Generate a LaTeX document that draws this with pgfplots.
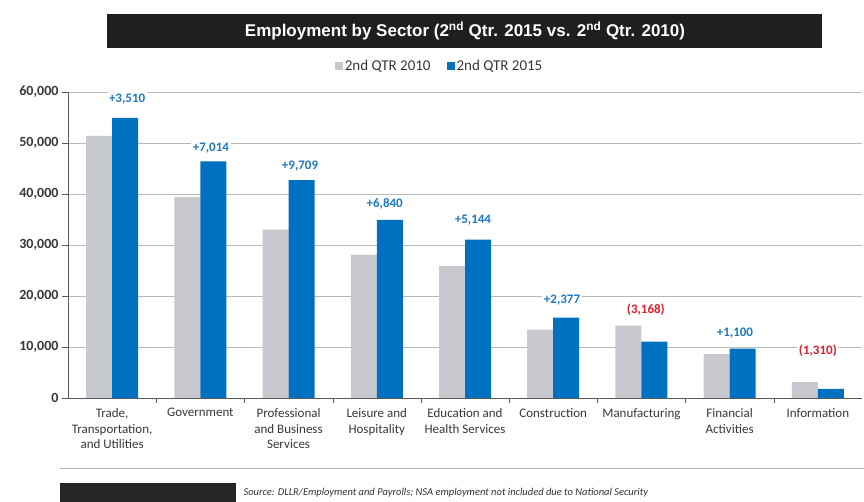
\documentclass[border=0pt]{standalone}
\usepackage{fontspec}
\setmainfont{Carlito}
\newfontfamily\titlefont{Liberation Sans}
\usepackage{pgfplots}
\pgfplotsset{compat=1.18}
\definecolor{barGray}{RGB}{200,201,207}
\definecolor{barBlue}{RGB}{0,112,192}
\definecolor{lblBlue}{RGB}{30,120,200}
\definecolor{lblRed}{RGB}{225,30,45}
\definecolor{txt}{RGB}{55,55,55}
\begin{document}
\begin{tikzpicture}[x=1pt,y=1pt]
\path[use as bounding box] (0pt,0pt) rectangle (864pt,502pt);
% title banner
\fill[black!88] (107pt,454pt) rectangle (822pt,488pt);
\node[text=white, font=\titlefont\bfseries\fontsize{17}{20}\selectfont] at (465pt,471pt)
  {Employment by Sector (2\textsuperscript{nd} Qtr. 2015 vs. 2\textsuperscript{nd} Qtr. 2010)};
\begin{axis}[
  at={(68pt,104pt)}, anchor=south west,
  scale only axis, width=794pt, height=306pt,
  xmin=-0.5, xmax=8.5, ymin=0, ymax=60000,
  axis x line*=bottom, axis y line*=left,
  axis line style={gray!70!black, thin},
  ytick={0,10000,20000,30000,40000,50000,60000},
  ymajorgrids, grid style={gray!55, thin},
  scaled y ticks=false,
  /pgf/number format/assume math mode=true,
  /pgf/number format/fixed,
  /pgf/number format/1000 sep={,},
  y tick label style={font=\bfseries\fontsize{14}{16}\selectfont, text=txt},
  tick align=outside,
  major tick length=6pt,
  ytick style={gray!70!black},
  xtick={0,1,2,3,4,5,6,7,8},
  major x tick style={draw=none},
  minor xtick={0.5,1.5,2.5,3.5,4.5,5.5,6.5,7.5},
  minor x tick style={gray!70!black},
  minor tick length=5pt,
  xticklabels={{Trade,\\Transportation,\\and Utilities},{Government},{Professional\\and Business\\Services},{Leisure and\\Hospitality},{Education and\\Health Services},{Construction},{Manufacturing},{Financial\\Activities},{Information}},
  x tick label style={align=center, font=\fontsize{13}{15.5}\selectfont, text=txt, yshift=-1pt},
  legend style={at={(0.468,1)}, anchor=south, yshift=16pt, draw=none, fill=none,
    font=\fontsize{15}{17}\selectfont, text=txt,
    /tikz/every even column/.append style={column sep=14pt}},
  legend columns=2,
  legend image code/.code={\fill[#1] (0pt,-4pt) rectangle (8pt,4pt);},
  clip=false,
]
\addplot[ybar, bar width=26pt, bar shift=-13pt, fill=barGray, draw=none] coordinates {
 (0,51400) (1,39400) (2,33000) (3,28100) (4,25900) (5,13400) (6,14200) (7,8600) (8,3100)};
\addplot[ybar, bar width=26pt, bar shift=13pt, fill=barBlue, draw=none] coordinates {
 (0,54910) (1,46414) (2,42709) (3,34940) (4,31044) (5,15777) (6,11032) (7,9700) (8,1790)};
\legend{2nd QTR 2010, 2nd QTR 2015}
\addplot[forget plot, draw=none, mark=none, nodes near coords, point meta=explicit symbolic,
  every node near coord/.append style={anchor=center, fill=white, inner sep=1.5pt,
    text=lblBlue, font=\bfseries\fontsize{13}{15}\selectfont}]
  table[meta=label] {
x y label
0.17 58600 +3,510
1.12 49000 +7,014
2.13 45500 +9,709
3.09 38100 +6,840
4.09 34900 +5,144
5.10 19200 +2,377
7.06 12800 +1,100
};
\addplot[forget plot, draw=none, mark=none, nodes near coords, point meta=explicit symbolic,
  every node near coord/.append style={anchor=center, fill=white, inner sep=1.5pt,
    text=lblRed, font=\bfseries\fontsize{13}{15}\selectfont}]
  table[meta=label] {
x y label
6.05 17400 (3,168)
8.00 9200 (1,310)
};
\end{axis}
% footer
\draw[gray!60, thin] (60pt,34pt) -- (864pt,34pt);
\fill[black!85] (60pt,0pt) rectangle (236pt,19pt);
\node[anchor=west, font=\itshape\fontsize{10.5}{12}\selectfont, text=black!80] at (240pt,9pt)
  {Source: DLLR/Employment and Payrolls; NSA employment not included due to National Security};
\end{tikzpicture}
\end{document}
